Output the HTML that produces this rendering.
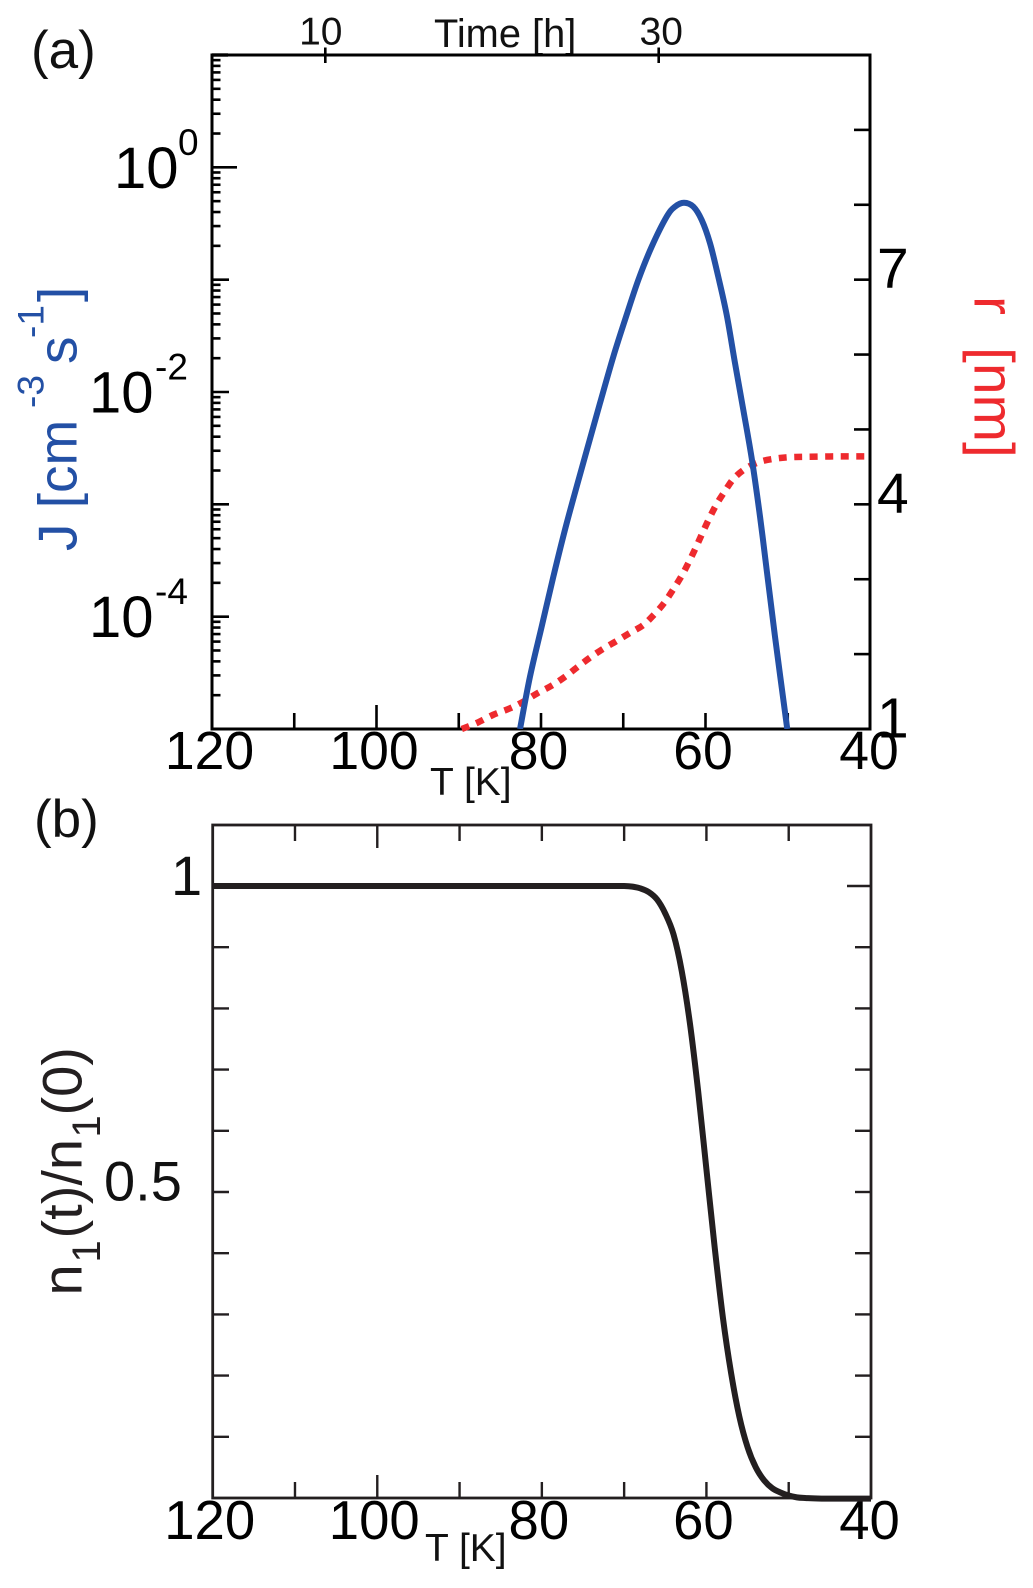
<!DOCTYPE html>
<html lang="en">
<head>
<meta charset="utf-8">
<title>Nucleation rate, radius and monomer depletion vs temperature</title>
<style>
html,body{margin:0;padding:0;background:#fff;}
svg{display:block;}
text{font-family:"Liberation Sans",Arial,sans-serif;}
</style>
</head>
<body>
<svg id="fig" xmlns="http://www.w3.org/2000/svg" width="1033" height="1588" viewBox="0 0 1033 1588">
  <rect width="1033" height="1588" fill="#fff"/>
  <defs>
    <clipPath id="clip-a"><rect x="212" y="55" width="658" height="674"/></clipPath>
  </defs>
  <text x="31" y="68" font-size="53" fill="#111">(a)</text>
  <text x="34" y="837" font-size="53" fill="#111">(b)</text>
  <text x="434" y="47" font-size="39.8" fill="#111">Time [h]</text>
  <text x="430" y="795" font-size="39" fill="#111">T [K]</text>
  <text x="425" y="1561" font-size="39" fill="#111">T [K]</text>
  <text transform="translate(76.7 551) rotate(-90)" font-size="55" fill="#2350a5">J [cm<tspan font-size="37" x="143" dy="-33">-3</tspan><tspan x="187" dy="33">s</tspan><tspan font-size="37" x="213" dy="-33">-1</tspan><tspan x="249" dy="33">]</tspan></text>
  <text transform="translate(974.3 296) rotate(90)" font-size="57" fill="#ee2a2e">r<tspan x="51">[nm]</tspan></text>
  <text transform="translate(81.7 1295.5) rotate(-90)" font-size="56" fill="#231f20">n<tspan font-size="40" x="33" dy="18.3">1</tspan><tspan x="57" dy="-18.3">(t)/n</tspan><tspan font-size="40" x="158" dy="18.3">1</tspan><tspan x="180" dy="-18.3">(0)</tspan></text>
</svg>
<script>
// Panel (a) temperature ticks and labels
const tempTicks = [110, 100, 90, 80, 70, 60, 50];
const tempLabels = [120, 100, 80, 60, 40];
const timeTicks = [10, 30];
const logDecades = [0, -1, -2, -3, -4];
const logLabelDecades = [0, -2, -4];
const logMinorMultiples = [2, 3, 4, 5, 6, 7, 8, 9];
const radiusTicks = [2, 3, 4, 5, 6, 7, 8, 9];
const radiusLabels = [1, 4, 7];

// Panel (a) blue series: temperature [K], log10 J
const jTemp = [82.55, 81.34, 79.92, 78.5, 76.88, 74.65, 72.83, 71.21, 69.79, 68.17, 66.54, 64.72, 63.71, 62.62, 61.48, 60.46, 59.45, 58.45, 57.42, 56.41, 55.4, 54.35, 53.37, 52.56, 51.55, 50.06];
const jLog = [-5, -4.534, -4.089, -3.644, -3.169, -2.576, -2.1, -1.686, -1.359, -1.003, -0.706, -0.439, -0.35, -0.315, -0.35, -0.469, -0.676, -0.973, -1.314, -1.744, -2.16, -2.605, -3.11, -3.585, -4.178, -5];

// Panel (a) red series: temperature [K], radius [nm]
const rTemp = [89.64, 87.82, 85.8, 83.77, 82.15, 80.45, 78.78, 77.17, 75.66, 74.16, 72.55, 70.88, 69.27, 67.56, 66.22, 65.01, 63.92, 62.89, 62.0, 61.16, 60.39, 59.54, 58.64, 57.63, 56.54, 55.08, 53.37, 51.55, 49.75, 47.72, 44.08, 40.0];
const rVal = [1, 1.08, 1.19, 1.276, 1.365, 1.477, 1.574, 1.69, 1.819, 1.944, 2.064, 2.171, 2.278, 2.389, 2.532, 2.686, 2.865, 3.047, 3.234, 3.426, 3.613, 3.813, 4.004, 4.178, 4.348, 4.481, 4.569, 4.61, 4.63, 4.635, 4.64, 4.64];

// Panel (b) black series: temperature [K], n1(t)/n1(0)
const nTemp = [120, 100, 80, 72, 70, 69, 68, 67, 66, 65, 64, 63, 62, 61, 60, 59, 58, 57, 56, 55, 54, 53, 52, 51, 50, 49, 48, 46, 40];
const nVal = [1, 1, 1, 1, 1, 0.999, 0.996, 0.99, 0.978, 0.955, 0.921, 0.861, 0.775, 0.664, 0.537, 0.41, 0.295, 0.204, 0.133, 0.083, 0.05, 0.029, 0.016, 0.009, 0.004, 0.001, 0, -0.001, -0.001];
const nTicks = [0.9, 0.8, 0.7, 0.6, 0.5, 0.4, 0.3, 0.2, 0.1];
const nLabels = ["1", "0.5"];
const nLabelValues = [1, 0.5];

// Axis functions
function xA(t) { return 212 + (120 - t) * (870 - 212) / 80; }
function xTime(h) { return 325.3 + (h - 10) * (658.7 - 325.3) / 20; }
function yJ(lg) { return 729 - (lg + 5) * (729 - 55) / 6; }
function yR(r) { return 729 - (r - 1) * (729 - 55) / 9; }
function xB(t) { return 212.7 + (120 - t) * (871 - 212.7) / 80; }
function yN(v) { return 1498 - v * 612; }

const NS = 'http://www.w3.org/2000/svg';
const svg = document.getElementById('fig');

function mk(tag, attrs, parent) {
  const el = document.createElementNS(NS, tag);
  for (const k in attrs) el.setAttribute(k, attrs[k]);
  (parent || svg).appendChild(el);
  return el;
}
function tickLine(x1, y1, x2, y2, color, w, parent) {
  return mk('line', { x1: x1, y1: y1, x2: x2, y2: y2, stroke: color, 'stroke-width': w }, parent);
}
function smoothPath(xs, ys) {
  let d = 'M' + xs[0].toFixed(2) + ' ' + ys[0].toFixed(2);
  for (let i = 0; i < xs.length - 1; i++) {
    const i0 = Math.max(i - 1, 0), i3 = Math.min(i + 2, xs.length - 1);
    const c1x = xs[i] + (xs[i + 1] - xs[i0]) / 6, c1y = ys[i] + (ys[i + 1] - ys[i0]) / 6;
    const c2x = xs[i + 1] - (xs[i3] - xs[i]) / 6, c2y = ys[i + 1] - (ys[i3] - ys[i]) / 6;
    d += 'C' + c1x.toFixed(2) + ' ' + c1y.toFixed(2) + ' ' + c2x.toFixed(2) + ' ' + c2y.toFixed(2) + ' ' + xs[i + 1].toFixed(2) + ' ' + ys[i + 1].toFixed(2);
  }
  return d;
}

// ---------- Panel (a) ----------
const AC = '#000';
const frameA = mk('rect', { x: 212, y: 55, width: 658, height: 674, fill: 'none', stroke: AC, 'stroke-width': 3 });



const stubA = tickLine(212, 55, 228, 55, AC, 3.4);



tempTicks.forEach(function (t) {
  const len = t === 100 ? 24 : 16;
  const tk = tickLine(xA(t), 729, xA(t), 729 - len, AC, 2.6);
  
  
});
tempLabels.forEach(function (t) {
  const lb = mk('text', { x: xA(t) - (t === 40 ? 1 : 2.5), y: 769, 'font-size': 53.5, 'text-anchor': 'middle', fill: '#000' });
  lb.textContent = String(t);
  
  
});
timeTicks.forEach(function (h) {
  const tk = tickLine(xTime(h), 47.5, xTime(h), 63, AC, 2.6);
  
  
  const lb = mk('text', { x: xTime(h) + (h === 10 ? -4.5 : 2.5), y: 44.5, 'font-size': 39, 'text-anchor': 'middle', fill: '#111' });
  lb.textContent = String(h);
  
  
});
logDecades.forEach(function (d) {
  const len = d === 0 ? 25 : 17;
  const tk = tickLine(212, yJ(d), 212 + len, yJ(d), AC, 2.6);
  
  
});
[0, -1, -2, -3, -4, -5].forEach(function (d) {
  logMinorMultiples.forEach(function (m) {
    const lg = d + Math.log10(m);
    const tk = tickLine(212, yJ(lg), 220.5, yJ(lg), AC, 2.6);
    
    
  });
});
logLabelDecades.forEach(function (d) {
  const start = d === 0 ? 114 : 89;
  const supOffset = d === 0 ? 64 : 66;
  const base = mk('text', { x: start, y: yJ(d) + 20.5, 'font-size': 58, fill: '#000' });
  base.textContent = '10';
  
  
  const sup = mk('text', { x: start + supOffset, y: yJ(d) - 12.5, 'font-size': 37, fill: '#000' });
  sup.textContent = String(d);
  
  
});
radiusTicks.forEach(function (r) {
  const tk = tickLine(870, yR(r), 854, yR(r), AC, 2.6);
  
  
});
radiusLabels.forEach(function (r) {
  const lb = mk('text', { x: 877, y: yR(r) + 8.5, 'font-size': 57, fill: '#000' });
  lb.textContent = String(r);
  
  
});

const rLine = mk('path', { d: smoothPath(rTemp.map(xA), rVal.map(yR)), fill: 'none', stroke: '#ee2a2e', 'stroke-width': 6.5, 'stroke-dasharray': '8 7.5' });



const jLine = mk('path', { d: smoothPath(jTemp.map(xA), jLog.map(yJ)), fill: 'none', stroke: '#2350a5', 'stroke-width': 6, 'clip-path': 'url(#clip-a)' });



// ---------- Panel (b) ----------
const BC = '#231f20';
const frameB = mk('rect', { x: 212.7, y: 825, width: 658.3, height: 673, fill: 'none', stroke: BC, 'stroke-width': 2.8 });



tempTicks.forEach(function (t) {
  const len = t === 100 ? 23 : 16;
  const bot = tickLine(xB(t), 1498, xB(t), 1498 - len, BC, 2.4);
  
  
  const top = tickLine(xB(t), 825, xB(t), 825 + len, BC, 2.4);
  
  
});
tempLabels.forEach(function (t) {
  const lb = mk('text', { x: xB(t) - (t === 40 ? 1.5 : 3), y: 1539, 'font-size': 54.5, 'text-anchor': 'middle', fill: '#000' });
  lb.textContent = String(t);
  
  
});
nTicks.forEach(function (v) {
  const l = tickLine(212.7, yN(v), 229, yN(v), BC, 2.4);
  
  
  const r = tickLine(871, yN(v), 855, yN(v), BC, 2.4);
  
  
});
const rMajor = tickLine(871, yN(1), 847, yN(1), BC, 2.4);



nLabelValues.forEach(function (v, i) {
  const lb = mk('text', { x: v === 1 ? 171 : 104, y: yN(v) + (v === 1 ? 9 : 8.7), 'font-size': 56, fill: '#111' });
  lb.textContent = nLabels[i];
  
  
});

const nLine = mk('path', { d: smoothPath(nTemp.map(xB), nVal.map(yN)), fill: 'none', stroke: BC, 'stroke-width': 6 });


</script>
</body>
</html>
